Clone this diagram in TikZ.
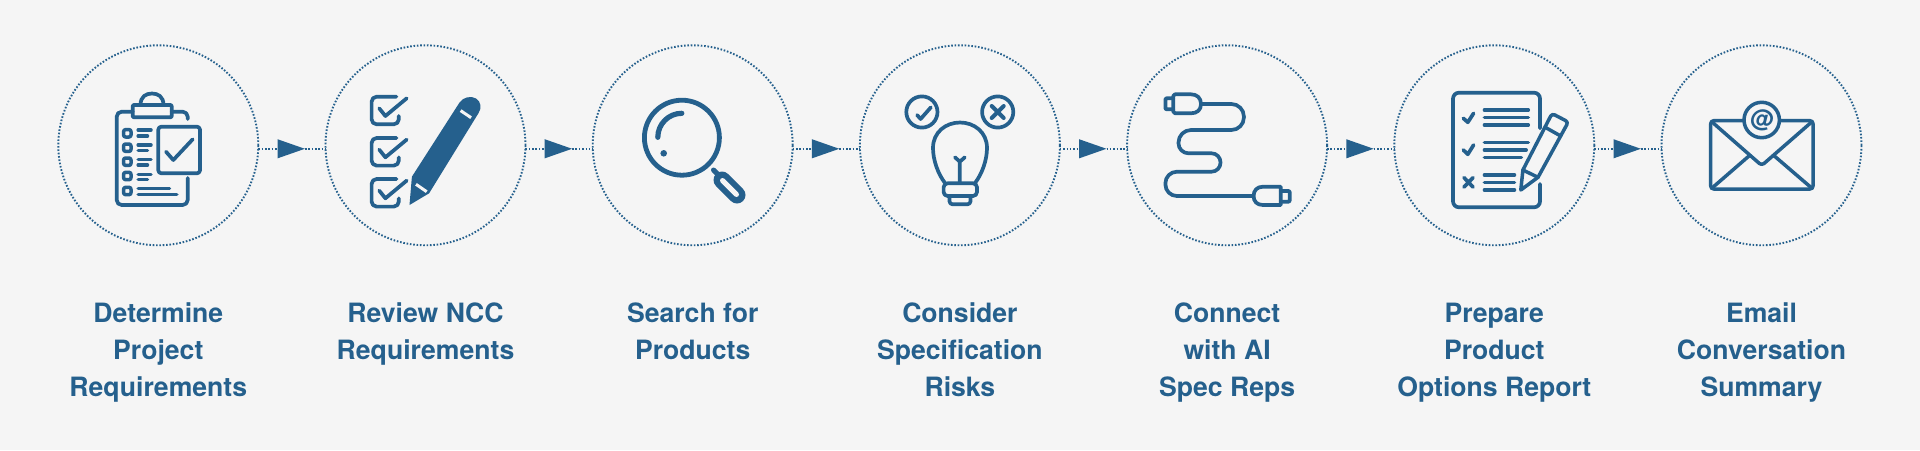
\documentclass[tikz,border=0pt]{standalone}
\usepackage{xcolor}
\usepackage{fontspec}
\setmainfont{TeX Gyre Heros}
\usetikzlibrary{arrows.meta,positioning}
\definecolor{stepblue}{HTML}{25608D}
\definecolor{pagefill}{HTML}{F5F5F5}

\begin{document}
\begin{tikzpicture}[
  x=1pt, y=-1pt,
  stepcircle/.style={draw=stepblue, circle, minimum size=200pt, inner sep=0pt, outer sep=0pt, line width=1.9pt, dash pattern=on 1.6pt off 1.75pt},
  stepname/.style={anchor=north, inner sep=0pt, align=center, text=stepblue, font=\fontsize{26.6}{37}\selectfont\bfseries, execute at begin node=\strut},
  stepline/.style={draw=stepblue, line width=1.9pt, dash pattern=on 1.6pt off 1.75pt},
  steparr/.style={stepline, -{Triangle[length=27.4pt, width=18.6pt]}, stepblue},
  ico/.style={draw=stepblue, line width=3.7pt, line cap=round, line join=round},
  bar/.style={ico, line width=3.5pt}
]
  \fill[pagefill] (0,0) rectangle (1920,450);

  \node[stepcircle] (determine) at (158.3,145.3) {};
  \node[stepcircle, right=67.2pt of determine] (review) {};
  \node[stepcircle, right=67.2pt of review] (search) {};
  \node[stepcircle, right=67.2pt of search] (consider) {};
  \node[stepcircle, right=67.2pt of consider] (connect) {};
  \node[stepcircle, right=67.2pt of connect] (prepare) {};
  \node[stepcircle, right=67.2pt of prepare] (email) {};

  \node[stepname, below=57.2pt of determine] (determinetext) {Determine\\Project\\Requirements};
  \node[stepname, below=57.2pt of review] (reviewtext) {Review NCC\\Requirements};
  \node[stepname, below=57.2pt of search] (searchtext) {Search for\\Products};
  \node[stepname, below=57.2pt of consider] (considertext) {Consider\\Specification\\Risks};
  \node[stepname, below=57.2pt of connect] (connecttext) {Connect\\with AI\\Spec Reps};
  \node[stepname, below=57.2pt of prepare] (preparetext) {Prepare\\Product\\Options Report};
  \node[stepname, below=57.2pt of email] (emailtext) {Email\\Conversation\\Summary};

  \draw[steparr] (determine.-2.7) -- ++(46.7,0) coordinate (tipa);
  \draw[stepline] (tipa) -- (review.182.7);
  \draw[steparr] (review.-2.7) -- ++(46.7,0) coordinate (tipb);
  \draw[stepline] (tipb) -- (search.182.7);
  \draw[steparr] (search.-2.7) -- ++(46.7,0) coordinate (tipc);
  \draw[stepline] (tipc) -- (consider.182.7);
  \draw[steparr] (consider.-2.7) -- ++(46.7,0) coordinate (tipd);
  \draw[stepline] (tipd) -- (connect.182.7);
  \draw[steparr] (connect.-2.7) -- ++(46.7,0) coordinate (tipe);
  \draw[stepline] (tipe) -- (prepare.182.7);
  \draw[steparr] (prepare.-2.7) -- ++(46.7,0) coordinate (tipf);
  \draw[stepline] (tipf) -- (email.182.7);

  \draw[ico, rounded corners=5pt] (187.7,119) -- (187.7,111.7) -- (171.7,111.7);
  \draw[ico, rounded corners=5pt] (132.7,111.7) -- (116.7,111.7) -- (116.7,205) -- (187.7,205) -- (187.7,178);
  \draw[ico, rounded corners=1pt] (132.7,105) rectangle (171.7,117.3);
  \draw[ico] (140.5,105) .. controls (140.5,96.5) and (146,93.5) .. (152,93.5) .. controls (158,93.5) and (163.5,96.5) .. (163.5,105);
  \draw[ico, rounded corners=3pt] (158.3,126.7) rectangle (200,173.3);
  \draw[ico] (166,151.7) -- (173.3,160) -- (192.7,139.3);
  \draw[bar, rounded corners=2pt] (123.6,129.6) rectangle (131,137);
  \draw[bar, rounded corners=2pt] (123.6,144) rectangle (131,151.4);
  \draw[bar, rounded corners=2pt] (123.6,158) rectangle (131,165.4);
  \draw[bar, rounded corners=2pt] (123.6,172.3) rectangle (131,179.7);
  \draw[bar, rounded corners=2pt] (123.6,187.3) rectangle (131,194.7);
  \draw[bar] (138.2,130) -- (151,130) (138.2,136) -- (147.5,136);
  \draw[bar] (138.2,145) -- (151,145) (138.2,150.7) -- (147.5,150.7);
  \draw[bar] (138.2,159.3) -- (151,159.3) (138.2,165) -- (147.5,165);
  \draw[bar] (138.2,174.3) -- (151,174.3) (138.2,179.7) -- (147.5,179.7);
  \draw[bar] (138.2,188.3) -- (169.5,188.3) (138.2,194.3) -- (176.8,194.3);

  \draw[ico, rounded corners=5pt] (396.4,96.7) -- (371.6,96.7) -- (371.6,124.3) -- (398.8,124.3) -- (398.8,116);
  \draw[ico] (379.2,108.3) -- (385.4,116) -- (406.7,98.3);
  \draw[ico, rounded corners=5pt] (396.4,138) -- (371.6,138) -- (371.6,165.6) -- (398.8,165.6) -- (398.8,157.3);
  \draw[ico] (379.2,149.6) -- (385.4,157.3) -- (406.7,139.6);
  \draw[ico, rounded corners=5pt] (396.4,179) -- (371.6,179) -- (371.6,206.6) -- (398.8,206.6) -- (398.8,198.3);
  \draw[ico] (379.2,190.6) -- (385.4,198.3) -- (406.7,180.6);
  \fill[stepblue] (409.5,205) -- (411.9,176.7) -- (459.4,102.7) .. controls (463,97) and (471,95.5) .. (476,98.5) .. controls (481,101.5) and (482,108) .. (478.4,113.3) -- (429.1,193.3) -- cycle;
  \draw[pagefill, line width=3pt] (460.6,110.6) -- (471.1,117.7);
  \draw[pagefill, line width=3pt] (416,184.3) -- (426.7,191.7);

  \draw[ico, line width=4.8pt] (681.9,137.7) circle [radius=37.5];
  \draw[ico, line width=5.2pt] (657.8,137.3) arc [start angle=180, end angle=270, radius=24];
  \fill[stepblue] (663.7,153.3) circle [radius=3.3];
  \draw[ico, line width=5pt] (713.5,170) -- (722,178.5);
  \draw[ico, line width=17pt] (722,180) -- (737,195);
  \draw[pagefill, line width=5pt, line cap=round] (722.5,180.5) -- (736.5,194.5);

  \draw[ico] (921.9,112) circle [radius=15.6];
  \draw[ico] (997.7,112) circle [radius=15.6];
  \draw[ico] (917.1,115) -- (920.6,119) -- (930.9,107.3);
  \draw[ico, line width=4pt] (991.7,106) -- (1003.7,118) (1003.7,106) -- (991.7,118);
  \draw[ico] (945,183) .. controls (938,174) and (933,160) .. (933,148) .. controls (933,132) and (946,122.5) .. (960,122.5) .. controls (974,122.5) and (987,132) .. (987,148) .. controls (987,160) and (982,174) .. (975,183);
  \draw[ico, rounded corners=4pt] (943.6,183.3) rectangle (977,196);
  \draw[ico, rounded corners=3pt] (949.5,196) -- (949.5,204.3) -- (970.5,204.3) -- (970.5,196);
  \draw[ico] (959.8,183) -- (959.8,161.7) (955,157.3) -- (959.8,161.7) -- (964.8,157.3);

  \draw[ico] (1175,94.3) -- (1191,94.3) .. controls (1197,94.3) and (1201,98) .. (1201,104) .. controls (1201,110) and (1197,113.3) .. (1191,113.3) -- (1175,113.3) .. controls (1173.8,113.3) and (1173.3,112.8) .. (1173.3,111.6) -- (1173.3,96) .. controls (1173.3,94.8) and (1173.8,94.3) .. (1175,94.3) -- cycle;
  \draw[ico, rounded corners=1pt] (1173.3,98.3) -- (1165.4,98.3) -- (1165.4,109.3) -- (1173.3,109.3);
  \draw[ico] (1202.3,104) [rounded corners=12.5pt] -- (1243.9,104) -- (1243.9,130) -- (1178.5,130) [rounded corners=10pt] -- (1178.5,153.3) [rounded corners=9pt] -- (1220.5,153.3) -- (1220.5,171.7) [rounded corners=11.5pt] -- (1165.4,171.7) -- (1165.4,196) -- (1253.2,196);
  \draw[ico] (1280.8,186.7) -- (1263,186.7) .. controls (1257,186.7) and (1253.6,190.5) .. (1253.6,196) .. controls (1253.6,201.5) and (1257,205) .. (1263,205) -- (1280.8,205) -- cycle;
  \draw[ico, rounded corners=1pt] (1280.8,191) -- (1289.7,191) -- (1289.7,201.7) -- (1280.8,201.7);

  \draw[ico, rounded corners=6pt] (1540,128.3) -- (1540,92.7) -- (1453,92.7) -- (1453,207.3) -- (1540,207.3) -- (1540,184);
  \draw[ico] (1463.3,118.3) -- (1467.8,122.3) -- (1473.6,113.3);
  \draw[ico] (1463.3,150) -- (1467.8,154.3) -- (1473.6,145);
  \draw[ico] (1464,177.6) -- (1473,187) (1473,177.6) -- (1464,187);
  \draw[bar] (1484.4,110) -- (1528.3,110) (1484.4,117.7) -- (1528.3,117.7) (1484.4,125) -- (1528.3,125);
  \draw[bar] (1484.4,142.3) -- (1528.3,142.3) (1484.4,150) -- (1526.2,150) (1484.4,157.3) -- (1521.4,157.3);
  \draw[bar] (1484.4,175) -- (1514.5,175) (1484.4,182.3) -- (1514.5,182.3) (1484.4,190) -- (1514.5,190);
  \draw[bar] (1522.9,170) [rounded corners=3pt] -- (1552,113.5) -- (1568.3,122) [sharp corners] -- (1538,177.3) -- (1520.8,190) -- cycle;
  \draw[bar] (1545.9,127.7) -- (1560.7,136);
  \draw[bar] (1522.9,170) -- (1538,177.3);

  \draw[bar, rounded corners=3pt] (1710.7,120.7) rectangle (1813,189);
  \draw[bar, fill=pagefill] (1761.7,120) circle [radius=17.7];
  \draw[bar, rounded corners=3pt] (1711.7,121.7) -- (1761.7,165.5) -- (1812,121.7);
  \draw[bar] (1711.7,188.3) -- (1749.3,155.7);
  \draw[bar] (1812,188.3) -- (1774,155.7);
  \node[inner sep=0pt, text=stepblue, font=\fontsize{24}{24}\selectfont\bfseries] (emailat) at (1761.7,120) {@};
\end{tikzpicture}
\end{document}
